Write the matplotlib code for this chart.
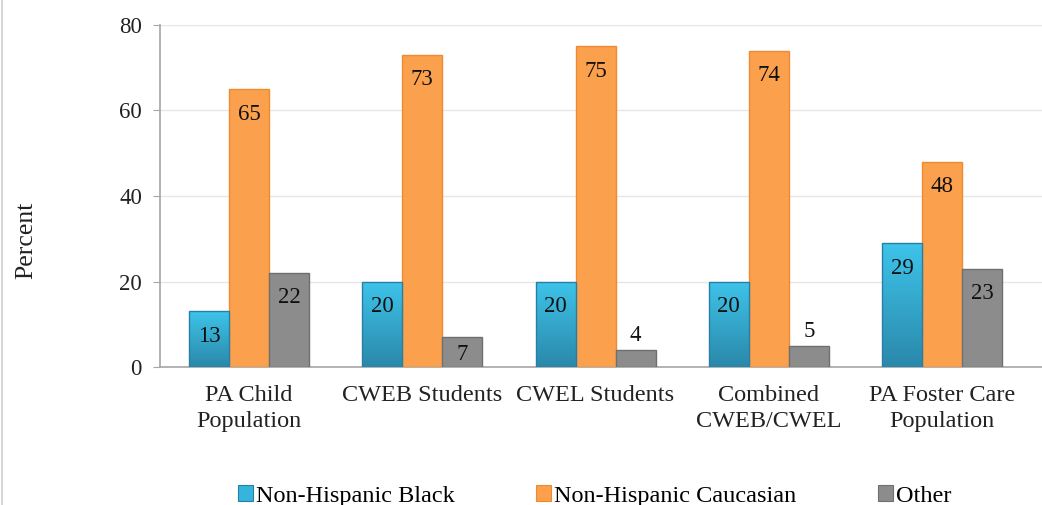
import matplotlib
matplotlib.use("Agg")
import matplotlib.pyplot as plt
import numpy as np
from matplotlib.patches import Patch
from matplotlib.lines import Line2D
from matplotlib.colors import LinearSegmentedColormap

categories = ["PA Child\nPopulation", "CWEB Students", "CWEL Students",
              "Combined\nCWEB/CWEL", "PA Foster Care\nPopulation"]
black = [13, 20, 20, 20, 29]
caucasian = [65, 73, 75, 74, 48]
other = [22, 7, 4, 5, 23]
series_names = ["Non-Hispanic Black", "Non-Hispanic Caucasian", "Other"]

plt.rcParams['font.family'] = ['Liberation Serif', 'DejaVu Serif']

W, H = 1042, 505
fig = plt.figure(figsize=(W / 100, H / 100), dpi=100)
ax = fig.add_axes([160 / W, (H - 367) / H, (W - 160) / W, (367 - 25) / H])

x = np.arange(len(categories))
bw = 0.231
colors = ["#35b4dc", "#fba04d", "#8c8c8c"]
edges = ["#2a7ea6", "#f08a30", "#6f6f6f"]

grad = np.linspace(0, 1, 256).reshape(-1, 1)
bcmap = LinearSegmentedColormap.from_list("b", ["#2a88aa", "#3ec4ea"])

all_bars = []
for i, (vals, c, e) in enumerate(zip([black, caucasian, other], colors, edges)):
    bars = ax.bar(x + (i - 1) * bw, vals, bw, color=c, edgecolor=e, linewidth=1.0, zorder=3)
    all_bars.append(bars)
    if i == 0:
        for b in bars:
            x0, y0 = b.get_x(), b.get_y()
            im = ax.imshow(grad, cmap=bcmap, aspect='auto', origin='lower',
                           extent=[x0, x0 + b.get_width(), y0, y0 + b.get_height()],
                           zorder=3.5)
            im.set_clip_path(b)
            b.set_facecolor("none")
            b.set_zorder(4)

ax.set_xlim(-0.514, 4.577)
ax.set_ylim(0, 80)
ax.set_yticks([0, 20, 40, 60, 80])
ax.yaxis.grid(True, color="#e6e6e6", linewidth=1.0, zorder=0)
ax.set_axisbelow(True)
for s in ["top", "right"]:
    ax.spines[s].set_visible(False)
ax.spines["left"].set_color("#a6a6a6")
ax.spines["bottom"].set_color("#a6a6a6")
ax.spines["left"].set_linewidth(1.2)
ax.spines["bottom"].set_linewidth(1.2)
ax.tick_params(axis='y', length=5, color="#a6a6a6", labelsize=16.5, pad=8, labelcolor="#222222")
ax.tick_params(axis='x', length=0, labelsize=17.5, pad=13, labelcolor="#222222")
ax.set_xticks(x)
ax.set_xticklabels(categories, linespacing=1.28)

# value labels
px_per_unit = (367 - 25) / 80.0
for bars, vals in zip(all_bars, [black, caucasian, other]):
    for b, v in zip(bars, vals):
        cx = b.get_x() + b.get_width() / 2
        hpx = v * px_per_unit
        if hpx > 50:
            off = -25
        elif hpx > 24:
            off = -hpx / 2 - 2
        else:
            off = 14
        ax.annotate(f"{v}", (cx, v), xytext=(0, off * 0.72), textcoords="offset points",
                    ha="center", va="center", fontsize=16.5, color="#111111", zorder=6)

fig.text(26 / W, 1 - 240 / H, "Percent", rotation=90, ha="center", va="center",
         fontsize=18.5, color="#222222")

handles = [Patch(facecolor=c, edgecolor=e, linewidth=0.8) for c, e in zip(colors, edges)]
fig.legend(handles, series_names, loc="center", bbox_to_anchor=(0.5705, 1 - 496 / H),
           ncol=3, frameon=False, fontsize=17.5, handlelength=0.62, handleheight=0.62,
           handletextpad=0.12, columnspacing=3.35)

fig.add_artist(Line2D([1.5 / W, 1.5 / W], [0, 1], color="#cfcfcf", linewidth=1.2))

fig.savefig("out.png", dpi=100)
